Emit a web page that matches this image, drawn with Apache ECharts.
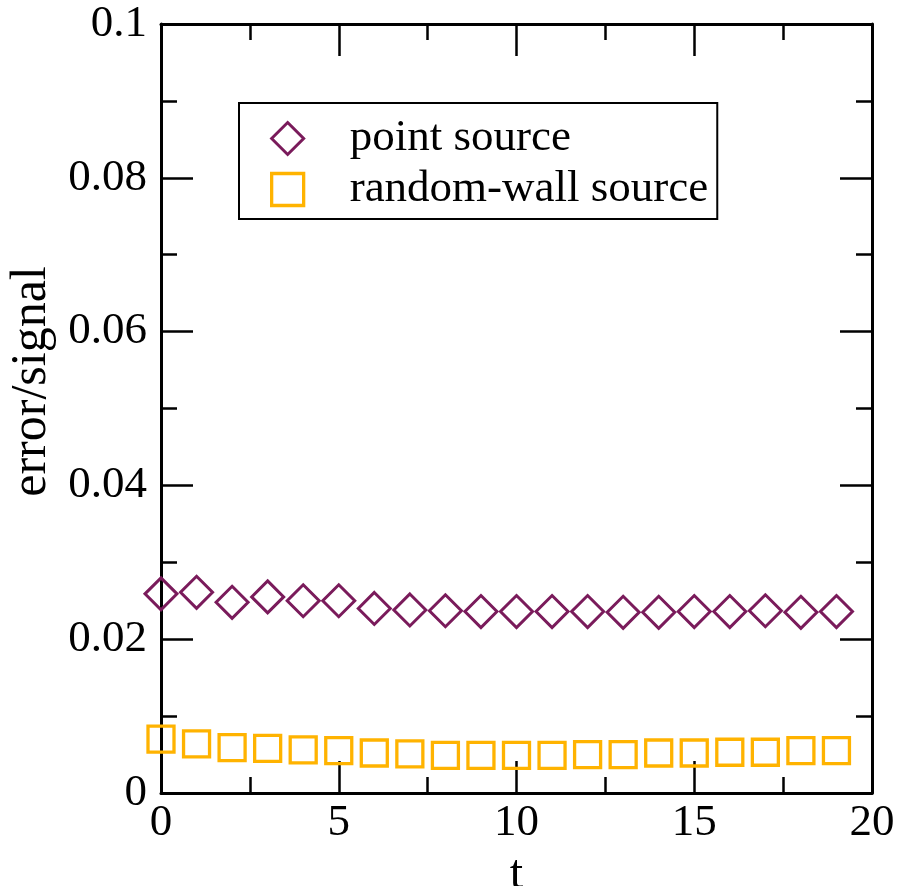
<!DOCTYPE html>
<html>
<head>
<meta charset="utf-8">
<script src="https://cdn.jsdelivr.net/npm/echarts@6/dist/echarts.min.js"></script>
<style>
  html, body { margin: 0; padding: 0; background: #fff; }
  #chart { width: 897px; height: 886px; }
</style>
</head>
<body>
<div id="chart"></div>
<script>
// Time slices
const tValues = [0, 1, 2, 3, 4, 5, 6, 7, 8, 9, 10, 11, 12, 13, 14, 15, 16, 17, 18, 19];
// Relative error of the correlator for each source type
const pointSource = [0.0259, 0.0261, 0.0248, 0.0255, 0.0250, 0.0250, 0.0240, 0.0238, 0.0237, 0.0236,
                     0.0236, 0.0236, 0.0236, 0.0235, 0.0235, 0.0236, 0.0236, 0.0237, 0.0235, 0.0236];
const wallSource = [0.0070, 0.0064, 0.0059, 0.0058, 0.0056, 0.0055, 0.0052, 0.0051, 0.0049, 0.0049,
                    0.0049, 0.0049, 0.0050, 0.0050, 0.0052, 0.0052, 0.0053, 0.0053, 0.0055, 0.0055];
const seriesNames = ['point source', 'random-wall source'];

const FONT = '"Liberation Serif", "DejaVu Serif", serif';
const PURPLE = '#7a1b5b';
const ORANGE = '#ffb300';

const pairs = (xs, ys) => xs.map((x, i) => [x, ys[i]]);

function xAxisDef(pos, showLabels) {
  return {
    type: 'value', position: pos, min: 0, max: 20, interval: 5,
    name: showLabels ? 't' : '', nameLocation: 'middle', nameGap: 46,
    nameTextStyle: { fontFamily: FONT, fontSize: 48, color: '#000' },
    axisLine: { show: true, onZero: false, lineStyle: { color: '#000', width: 3 } },
    axisTick: { show: true, inside: true, length: 32, lineStyle: { color: '#000', width: 2.5 } },
    minorTick: { show: true, splitNumber: 2, length: 16, lineStyle: { color: '#000', width: 2.5 } },
    axisLabel: { show: showLabels, fontFamily: FONT, fontSize: 45, color: '#000', margin: 8 },
    splitLine: { show: false }, minorSplitLine: { show: false }
  };
}
function yAxisDef(pos, showLabels) {
  return {
    type: 'value', position: pos, min: 0, max: 0.1, interval: 0.02,
    name: showLabels ? 'error/signal' : '', nameLocation: 'middle', nameGap: 100,
    nameTextStyle: { fontFamily: FONT, fontSize: 50, color: '#000', padding: [0, 0, 0, 54] },
    axisLine: { show: true, onZero: false, lineStyle: { color: '#000', width: 3 } },
    axisTick: { show: true, inside: true, length: 32, lineStyle: { color: '#000', width: 2.5 } },
    minorTick: { show: true, splitNumber: 2, length: 16, lineStyle: { color: '#000', width: 2.5 } },
    axisLabel: { show: showLabels, fontFamily: FONT, fontSize: 45, color: '#000', margin: 14 },
    splitLine: { show: false }, minorSplitLine: { show: false }
  };
}

const chart = echarts.init(document.getElementById('chart'), null, { renderer: 'canvas' });
chart.setOption({
  animation: false,
  backgroundColor: '#fff',
  grid: { left: 161, top: 24, right: 25, bottom: 93, containLabel: false, outerBoundsMode: 'none' },
  xAxis: [xAxisDef('bottom', true), xAxisDef('top', false)],
  yAxis: [yAxisDef('left', true), yAxisDef('right', false)],
  legend: {
    orient: 'vertical', left: 239, top: 103,
    padding: [13, 9, 7, 31],
    itemWidth: 32, itemHeight: 32, itemGap: 6,
    borderColor: '#000', borderWidth: 2, borderRadius: 0,
    backgroundColor: '#fff',
    textStyle: { fontFamily: FONT, fontSize: 45, color: '#000', padding: [0, 0, 0, 41] },
    data: [
      { name: seriesNames[0], icon: 'diamond',
        itemStyle: { color: 'rgba(0,0,0,0)', borderColor: PURPLE, borderWidth: 3 } },
      { name: seriesNames[1], icon: 'rect',
        itemStyle: { color: 'rgba(0,0,0,0)', borderColor: ORANGE, borderWidth: 3.3 } }
    ]
  },
  series: [
    {
      name: seriesNames[0], type: 'scatter', xAxisIndex: 0, yAxisIndex: 0,
      symbol: 'diamond', symbolSize: 32,
      itemStyle: { color: 'rgba(0,0,0,0)', borderColor: PURPLE, borderWidth: 3, opacity: 1 },
      data: pairs(tValues, pointSource)
    },
    {
      name: seriesNames[1], type: 'scatter', xAxisIndex: 0, yAxisIndex: 0,
      symbol: 'rect', symbolSize: 26,
      itemStyle: { color: 'rgba(0,0,0,0)', borderColor: ORANGE, borderWidth: 3.3, opacity: 1 },
      data: pairs(tValues, wallSource)
    }
  ]
});
</script>
</body>
</html>
